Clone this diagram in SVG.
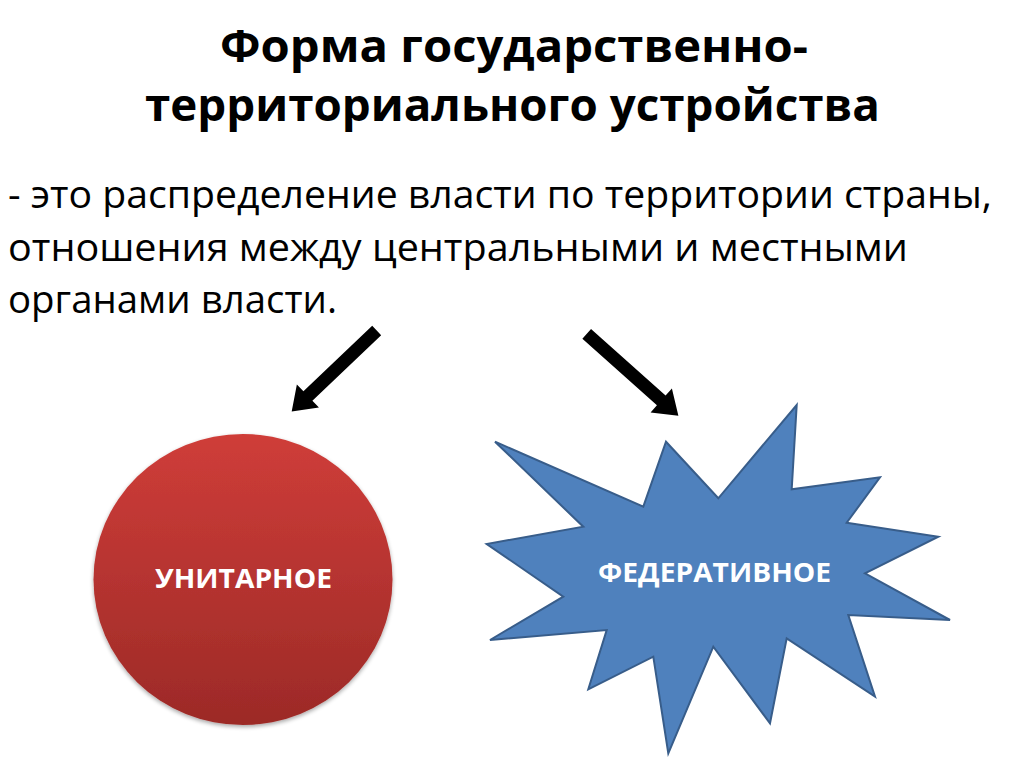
<svg xmlns="http://www.w3.org/2000/svg" width="1024" height="767" viewBox="0 0 1024 767">
  <defs>
    <linearGradient id="redGrad" x1="0" y1="0" x2="0" y2="1">
      <stop offset="0" stop-color="#cf3d39"/>
      <stop offset="1" stop-color="#9c2a27"/>
    </linearGradient>
    <filter id="shadow" x="-10%" y="-10%" width="120%" height="120%">
      <feGaussianBlur in="SourceAlpha" stdDeviation="2"/>
      <feOffset dx="0" dy="2" result="b"/>
      <feComponentTransfer><feFuncA type="linear" slope="0.35"/></feComponentTransfer>
      <feMerge><feMergeNode/><feMergeNode in="SourceGraphic"/></feMerge>
    </filter>
  </defs>
  <style>
    .title { font-family: "Open Sans", "Liberation Sans", sans-serif; font-weight: bold; font-size: 45px; fill: #000; }
    .body { font-family: "Open Sans", "Liberation Sans", sans-serif; font-size: 39px; fill: #000; }
    .label { font-family: "Open Sans", "Liberation Sans", sans-serif; font-weight: bold; font-size: 26px; fill: #fff; }
    .arrow { fill: #000; }
  </style>
  <rect width="1024" height="767" fill="#fff"/>

  <g id="title">
    <text class="title" x="220" y="62" textLength="588" lengthAdjust="spacingAndGlyphs">Форма государственно-</text>
    <text class="title" x="145" y="121" textLength="735" lengthAdjust="spacingAndGlyphs">территориального устройства</text>
  </g>

  <g id="definition">
    <text class="body" x="8" y="208" textLength="984" lengthAdjust="spacingAndGlyphs">- это распределение власти по территории страны,</text>
    <text class="body" x="8" y="261" textLength="900" lengthAdjust="spacingAndGlyphs">отношения между центральными и местными</text>
    <text class="body" x="8" y="313" textLength="329" lengthAdjust="spacingAndGlyphs">органами власти.</text>
  </g>

  <g id="connectors">
    <polygon class="arrow" transform="translate(376.7,330.5) rotate(136.4)" points="0,-6.5 95,-6.5 95,-16 117.4,0 95,16 95,6.5 0,6.5"/>
    <polygon class="arrow" transform="translate(586.7,333.8) rotate(41.8)" points="0,-6.5 100,-6.5 100,-16 123,0 100,16 100,6.5 0,6.5"/>
  </g>

  <g id="unitary">
    <ellipse cx="243" cy="579.5" rx="149.5" ry="145.5" fill="url(#redGrad)" filter="url(#shadow)"/>
    <text class="label" x="155" y="588" textLength="177" lengthAdjust="spacingAndGlyphs">УНИТАРНОЕ</text>
  </g>

  <g id="federal">
    <polygon fill="#4f81bd" stroke="#385d8a" stroke-width="2" stroke-linejoin="miter" points="495,441.7 643.3,506.7 666,441.7 718.3,498.3 796.7,405 791.7,489.3 880,477.3 846.7,522.7 938.3,536.7 865,573.3 950,620 848.3,615 875,696.7 786.7,638.3 770,723.3 713.3,646.7 668.3,753.3 653.3,656.7 588.3,689.3 606.7,630 490,640 563.3,596.7 486.7,544 583.3,526.7"/>
    <text class="label" x="598" y="582" textLength="233" lengthAdjust="spacingAndGlyphs">ФЕДЕРАТИВНОЕ</text>
  </g>
</svg>
